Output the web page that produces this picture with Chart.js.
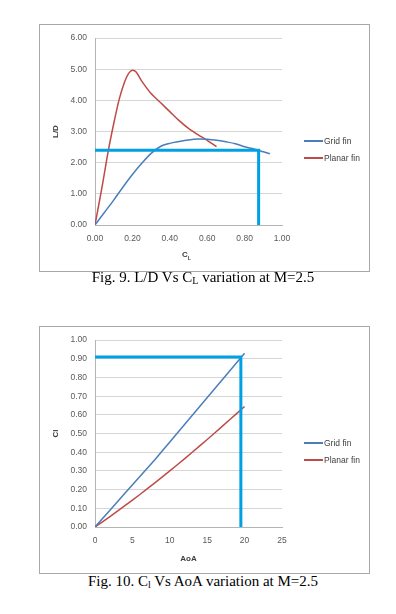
<!DOCTYPE html>
<html>
<head>
<meta charset="utf-8">
<script src="https://cdn.jsdelivr.net/npm/chart.js@4/dist/chart.umd.min.js"></script>
<style>
  body { margin: 0; background: #fff; width: 396px; height: 614px; position: relative; overflow: hidden; }
  .frame { position: absolute; left: 39px; width: 329px; height: 246px; border: 1px solid #a8a8a8; }
  .frame canvas { position: absolute; left: 0; top: 0; }
  .legend { position: absolute; left: 264px; font: 8.5px "Liberation Sans", sans-serif; color: #404040; }
  .legend div { height: 16.5px; display: flex; align-items: center; }
  .legend span.sw { display: inline-block; width: 19px; height: 2px; margin-right: 1px; }
  .xt { position: absolute; font: bold 8px "Liberation Sans", sans-serif; color: #404040; }
  .cap { position: absolute; left: 0; width: 406px; text-align: center; font: 15px "Liberation Serif", serif; color: #000; }
  .cap sub { font-size: 10px; vertical-align: -2px; line-height: 0; }
</style>
</head>
<body>
<div class="frame" style="top:24px">
  <canvas id="ldChart" width="329" height="246"></canvas>
  <div class="legend" style="top:108px">
    <div><span class="sw" style="background:#4a7ebb"></span>Grid fin</div>
    <div><span class="sw" style="background:#be4b48"></span>Planar fin</div>
  </div>
  <div class="xt" style="left:142px;top:225px">C<sub style="font-size:5px">L</sub></div>
</div>
<div class="cap" style="top:269px">Fig. 9. L/D Vs C<sub>L</sub> variation at M=2.5</div>

<div class="frame" style="top:326px">
  <canvas id="clChart" width="329" height="246"></canvas>
  <div class="legend" style="top:108px">
    <div><span class="sw" style="background:#4a7ebb"></span>Grid fin</div>
    <div><span class="sw" style="background:#be4b48"></span>Planar fin</div>
  </div>
</div>
<div class="cap" style="top:573px">Fig. 10. C<sub>l</sub> Vs AoA variation at M=2.5</div>

<script>
// Fig. 9 - L/D vs CL
const gridCL = [0, 0.05, 0.10, 0.15, 0.20, 0.25, 0.30, 0.35, 0.40, 0.45, 0.50, 0.55, 0.60, 0.65, 0.70, 0.75, 0.80, 0.85, 0.90, 0.935];
const gridLD = [0, 0.40, 0.80, 1.22, 1.62, 1.98, 2.30, 2.52, 2.62, 2.68, 2.73, 2.76, 2.75, 2.72, 2.67, 2.61, 2.51, 2.44, 2.35, 2.29];
const planarCL = [0, 0.04, 0.07, 0.10, 0.13, 0.16, 0.18, 0.20, 0.22, 0.25, 0.30, 0.35, 0.40, 0.45, 0.50, 0.55, 0.60, 0.65];
const planarLD = [0, 1.30, 2.35, 3.25, 4.05, 4.62, 4.87, 4.97, 4.91, 4.62, 4.22, 3.93, 3.64, 3.35, 3.10, 2.90, 2.72, 2.52];
const refCL = [0, 0.875, 0.875];
const refLD = [2.4, 2.4, 0];

// Fig. 10 - Cl vs AoA
const aoa = [0, 2, 4, 6, 8, 10, 12, 14, 16, 18, 20];
const gridCl = [0, 0.09, 0.18, 0.27, 0.36, 0.455, 0.55, 0.645, 0.74, 0.835, 0.93];
const planarCl = [0, 0.056, 0.114, 0.174, 0.236, 0.300, 0.366, 0.434, 0.503, 0.574, 0.645];
const refAoA = [0, 19.5, 19.5];
const refCl = [0.91, 0.91, 0];

const pts = (xs, ys) => xs.map((x, i) => ({ x: x, y: ys[i] }));

const tickFont = { family: 'Liberation Sans', size: 8.5 };
const titleFont = { family: 'Liberation Sans', size: 8, weight: 'bold' };

function lineSet(data, color, width, order, tension) {
    return {
        data: data,
        borderColor: color,
        borderWidth: width,
        showLine: true,
        pointRadius: 0,
        tension: tension,
        fill: false,
        order: order
    };
}

function makeChart(id, series, xOpts, yOpts, yTitle, xTitle) {
    const ctx = document.getElementById(id).getContext('2d');
    return new Chart(ctx, {
        type: 'scatter',
        data: { datasets: series },
        options: {
            responsive: false,
            animation: false,
            layout: { padding: { top: 10, right: 87, bottom: 0, left: 0 } },
            plugins: { legend: { display: false }, tooltip: { enabled: false } },
            scales: {
                x: {
                    type: 'linear',
                    min: xOpts.min, max: xOpts.max,
                    afterFit: s => { s.height = 46; },
                    grid: { display: false, drawTicks: false },
                    border: { color: '#b4b4b4' },
                    ticks: { stepSize: xOpts.step, padding: 9, color: '#595959', font: tickFont, callback: xOpts.fmt },
                    title: { display: !!xTitle, text: xTitle, color: '#404040', font: titleFont, padding: { top: 0, bottom: 9 } }
                },
                y: {
                    min: yOpts.min, max: yOpts.max,
                    afterFit: s => { s.width = 55; },
                    grid: { color: '#d6d6d6', drawTicks: false },
                    border: { color: '#b4b4b4' },
                    ticks: { stepSize: yOpts.step, padding: 8, color: '#595959', font: tickFont, callback: v => v.toFixed(2) },
                    title: { display: true, text: yTitle, color: '#404040', font: titleFont, padding: { top: 11, bottom: 0 } }
                }
            }
        }
    });
}

makeChart('ldChart', [
    lineSet(pts(refCL, refLD), '#00a0e4', 3, 0, 0),
    lineSet(pts(gridCL, gridLD), '#4a7ebb', 1.5, 1, 0.3),
    lineSet(pts(planarCL, planarLD), '#be4b48', 1.5, 2, 0.3)
], { min: 0, max: 1, step: 0.2, fmt: v => v.toFixed(2) },
   { min: 0, max: 6, step: 1 }, 'L/D', '');

makeChart('clChart', [
    lineSet(pts(refAoA, refCl), '#00a0e4', 3, 0, 0),
    lineSet(pts(aoa, gridCl), '#4a7ebb', 1.5, 1, 0),
    lineSet(pts(aoa, planarCl), '#be4b48', 1.5, 2, 0.2)
], { min: 0, max: 25, step: 5, fmt: v => v },
   { min: 0, max: 1, step: 0.1 }, 'Cl', 'AoA');
</script>
</body>
</html>
